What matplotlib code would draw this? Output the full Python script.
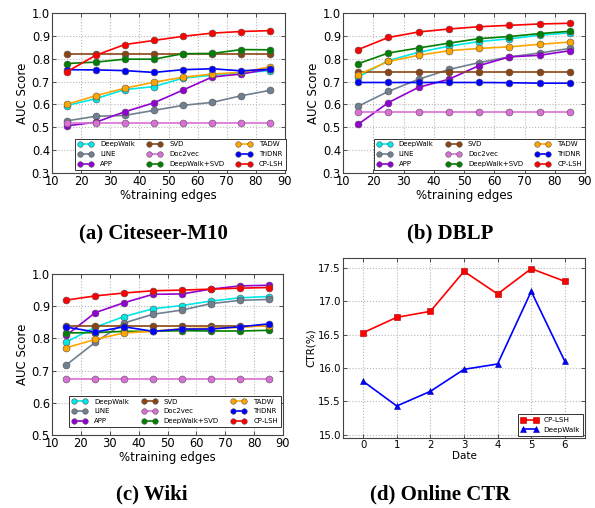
import matplotlib
matplotlib.use("Agg")
import matplotlib.pyplot as plt

# ---------------- data ----------------
x_edges = [15, 25, 35, 45, 55, 65, 75, 85]
methods = ["DeepWalk", "LINE", "APP", "SVD", "Doc2vec", "DeepWalk+SVD", "TADW", "TriDNR", "CP-LSH"]
colors = ["#00e8e8", "#708090", "#9400d3", "#8b4513", "#da70d6", "#008000", "#ffa500", "#0000ff", "#ff0000"]

citeseer = {
    "DeepWalk": [0.595, 0.625, 0.665, 0.678, 0.715, 0.728, 0.738, 0.748],
    "LINE": [0.528, 0.548, 0.552, 0.574, 0.596, 0.609, 0.638, 0.662],
    "APP": [0.506, 0.522, 0.568, 0.607, 0.663, 0.720, 0.733, 0.755],
    "SVD": [0.822, 0.822, 0.822, 0.822, 0.822, 0.822, 0.822, 0.822],
    "Doc2vec": [0.520, 0.520, 0.520, 0.520, 0.520, 0.520, 0.520, 0.520],
    "DeepWalk+SVD": [0.779, 0.785, 0.798, 0.798, 0.822, 0.823, 0.840, 0.839],
    "TADW": [0.600, 0.638, 0.671, 0.697, 0.719, 0.733, 0.740, 0.765],
    "TriDNR": [0.752, 0.751, 0.748, 0.740, 0.752, 0.756, 0.747, 0.754],
    "CP-LSH": [0.742, 0.815, 0.862, 0.880, 0.898, 0.912, 0.919, 0.923],
}
dblp = {
    "DeepWalk": [0.720, 0.792, 0.828, 0.855, 0.875, 0.887, 0.903, 0.913],
    "LINE": [0.592, 0.657, 0.710, 0.753, 0.783, 0.808, 0.825, 0.845],
    "APP": [0.513, 0.608, 0.675, 0.710, 0.770, 0.808, 0.815, 0.835],
    "SVD": [0.742, 0.742, 0.742, 0.742, 0.742, 0.742, 0.742, 0.742],
    "Doc2vec": [0.567, 0.567, 0.567, 0.567, 0.567, 0.567, 0.567, 0.567],
    "DeepWalk+SVD": [0.778, 0.825, 0.847, 0.868, 0.888, 0.897, 0.910, 0.920],
    "TADW": [0.730, 0.788, 0.815, 0.835, 0.845, 0.852, 0.863, 0.873],
    "TriDNR": [0.696, 0.696, 0.696, 0.696, 0.696, 0.695, 0.693, 0.693],
    "CP-LSH": [0.840, 0.893, 0.917, 0.930, 0.940, 0.946, 0.952, 0.955],
}
wiki = {
    "DeepWalk": [0.789, 0.835, 0.868, 0.892, 0.902, 0.916, 0.926, 0.930],
    "LINE": [0.718, 0.788, 0.848, 0.875, 0.888, 0.908, 0.918, 0.921],
    "APP": [0.810, 0.880, 0.911, 0.937, 0.938, 0.953, 0.963, 0.965],
    "SVD": [0.837, 0.837, 0.837, 0.837, 0.837, 0.837, 0.837, 0.837],
    "Doc2vec": [0.673, 0.673, 0.673, 0.673, 0.673, 0.673, 0.673, 0.673],
    "DeepWalk+SVD": [0.817, 0.818, 0.822, 0.822, 0.824, 0.823, 0.823, 0.825],
    "TADW": [0.771, 0.797, 0.817, 0.822, 0.830, 0.832, 0.834, 0.840],
    "TriDNR": [0.835, 0.820, 0.836, 0.822, 0.829, 0.829, 0.836, 0.845],
    "CP-LSH": [0.919, 0.932, 0.941, 0.948, 0.950, 0.953, 0.956, 0.958],
}

dates = [0, 1, 2, 3, 4, 5, 6]
ctr_cplsh = [16.53, 16.76, 16.85, 17.45, 17.11, 17.49, 17.30]
ctr_deepwalk = [15.80, 15.43, 15.65, 15.98, 16.06, 17.15, 16.10]

captions = ["(a) Citeseer-M10", "(b) DBLP", "(c) Wiki", "(d) Online CTR"]

# ---------------- figure ----------------
W, H = 595, 508
fig = plt.figure(figsize=(W / 100, H / 100), dpi=100)
fig.patch.set_facecolor("white")


def px_axes(left, top, right, bottom):
    return fig.add_axes([left / W, 1 - bottom / H, (right - left) / W, (bottom - top) / H])


def style(ax, fs=8.3):
    ax.grid(True, color="#b8b8b8", linestyle=":", linewidth=0.8)
    ax.set_axisbelow(True)
    ax.tick_params(direction="in", top=True, right=True, labelsize=fs, length=3, width=0.6,
                   pad=1.5, colors="#333333", labelcolor="black")
    for s in ax.spines.values():
        s.set_linewidth(0.8)
        s.set_color("#444444")


def auc_panel(ax, data, ylim, yticks, legend_anchor):
    for m, c in zip(methods, colors):
        ax.plot(x_edges, data[m], color=c, marker="o", markersize=5, lw=1.2,
                markeredgecolor="#555555", markeredgewidth=0.4, label=m)
    ax.set_xlim(10, 90)
    ax.set_xticks([10, 20, 30, 40, 50, 60, 70, 80, 90])
    ax.set_ylim(*ylim)
    ax.set_yticks(yticks)
    ax.set_yticklabels([f"{t:.1f}" for t in yticks])
    ax.set_xlabel("%training edges", fontsize=8.5, labelpad=1)
    ax.set_ylabel("AUC Score", fontsize=8.5, labelpad=2)
    style(ax)
    leg = ax.legend(ncol=3, prop={"size": 5.0}, loc="lower right", bbox_to_anchor=legend_anchor,
                    numpoints=2, handlelength=2.2, handletextpad=1.0, columnspacing=1.75,
                    labelspacing=0.55, borderpad=0.4, fancybox=False, framealpha=1,
                    edgecolor="#333333", borderaxespad=0.0, markerscale=0.8)
    leg.get_frame().set_linewidth(0.7)


ax1 = px_axes(52, 13, 285, 173)
auc_panel(ax1, citeseer, (0.3, 1.0), [0.3, 0.4, 0.5, 0.6, 0.7, 0.8, 0.9, 1.0], (1.005, 0.02))
ax2 = px_axes(343, 13, 585, 173)
auc_panel(ax2, dblp, (0.3, 1.0), [0.3, 0.4, 0.5, 0.6, 0.7, 0.8, 0.9, 1.0], (1.0, 0.02))
ax3 = px_axes(52, 274, 283, 435)
auc_panel(ax3, wiki, (0.5, 1.0), [0.5, 0.6, 0.7, 0.8, 0.9, 1.0], (0.99, 0.05))

ax4 = px_axes(343, 258, 585, 438)
ax4.plot(dates, ctr_cplsh, color="red", marker="s", markersize=4.8, lw=1.2,
         markeredgecolor="#aa0000", markeredgewidth=0.4, label="CP-LSH")
ax4.plot(dates, ctr_deepwalk, color="blue", marker="^", markersize=5, lw=1.2,
         markeredgecolor="#0000aa", markeredgewidth=0.4, label="DeepWalk")
ax4.set_xlim(-0.6, 6.6)
ax4.set_xticks(dates)
ax4.set_ylim(14.95, 17.65)
yt = [15.0, 15.5, 16.0, 16.5, 17.0, 17.5]
ax4.set_yticks(yt)
ax4.set_yticklabels([f"{t:.1f}" for t in yt])
ax4.set_xlabel("Date", fontsize=7.5, labelpad=1)
ax4.set_ylabel("CTR(%)", fontsize=7.5, labelpad=2)
style(ax4, fs=7.3)
leg = ax4.legend(prop={"size": 5.2}, loc="lower right", numpoints=2, handlelength=2.3,
                 fancybox=False, framealpha=1, edgecolor="#333333", borderaxespad=0.3,
                 labelspacing=0.5, borderpad=0.4, handletextpad=0.8, markerscale=0.9)
leg.get_frame().set_linewidth(0.7)

cap_kw = dict(ha="center", va="center", fontsize=15, fontweight="bold", family="Liberation Serif")
fig.text(153 / W, 1 - 233 / H, captions[0], **cap_kw)
fig.text(450 / W, 1 - 233 / H, captions[1], **cap_kw)
fig.text(152 / W, 1 - 494 / H, captions[2], **cap_kw)
fig.text(440 / W, 1 - 494 / H, captions[3], **cap_kw)

fig.savefig("out.png", dpi=100, facecolor="white")
